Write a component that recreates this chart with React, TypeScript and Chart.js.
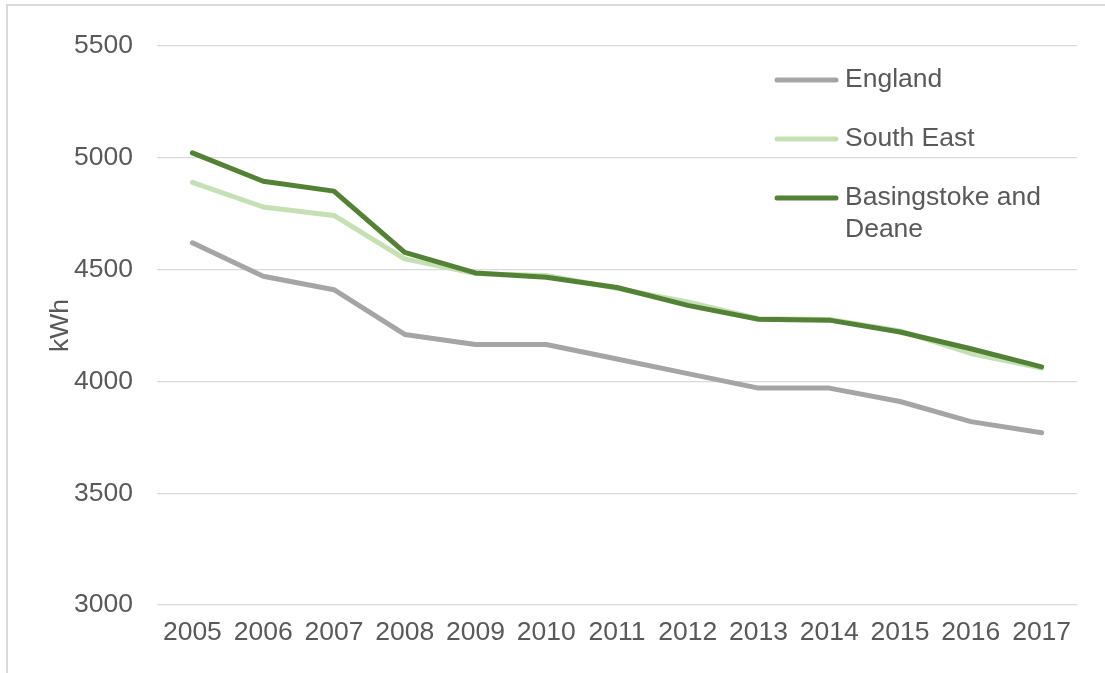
import React, { useEffect, useRef } from "react";
import { Chart, registerables } from "chart.js";

Chart.register(...registerables);

const years = ["2005", "2006", "2007", "2008", "2009", "2010", "2011", "2012", "2013", "2014", "2015", "2016", "2017"];
const seriesNames = ["England", "South East", "Basingstoke and Deane"];
const england = [4620, 4470, 4410, 4210, 4165, 4165, 4100, 4035, 3970, 3970, 3910, 3820, 3770];
const southEast = [4890, 4780, 4742, 4548, 4482, 4474, 4416, 4355, 4280, 4277, 4226, 4125, 4060];
const basingstoke = [5022, 4895, 4851, 4577, 4485, 4466, 4420, 4340, 4278, 4274, 4221, 4146, 4065];
const yTicks = [3000, 3500, 4000, 4500, 5000, 5500];
const colors = ["#A5A5A5", "#C5E0B4", "#538135"];

const FONT = "'Liberation Sans', Arial, sans-serif";
const TEXT = "#595959";

const legendPlugin = {
  id: "customLegend",
  afterDraw(chart: any) {
    const ctx = chart.ctx;
    const rows = [80, 139, 198];
    ctx.save();
    ctx.font = `26.5px ${FONT}`;
    ctx.textBaseline = "middle";
    ctx.textAlign = "left";
    chart.data.datasets.forEach((ds: any, i: number) => {
      const y = rows[i];
      ctx.strokeStyle = ds.borderColor;
      ctx.lineWidth = 5;
      ctx.lineCap = "round";
      ctx.beginPath();
      ctx.moveTo(777, y);
      ctx.lineTo(836, y);
      ctx.stroke();
      ctx.fillStyle = TEXT;
      const words = String(ds.label).split(" ");
      const lines: string[] = [];
      let cur = "";
      words.forEach((w) => {
        const test = cur ? cur + " " + w : w;
        if (ctx.measureText(test).width > 235 && cur) {
          lines.push(cur);
          cur = w;
        } else cur = test;
      });
      if (cur) lines.push(cur);
      lines.forEach((ln, k) => ctx.fillText(ln, 845, y + k * 32));
    });
    ctx.restore();
  },
};

export default function App() {
  const ref = useRef<HTMLCanvasElement>(null);
  useEffect(() => {
    if (!ref.current) return;
    const chart = new Chart(ref.current, {
      type: "line",
      data: {
        labels: years,
        datasets: [
          { label: seriesNames[0], data: england, borderColor: colors[0], backgroundColor: colors[0], borderWidth: 5, order: 3 },
          { label: seriesNames[1], data: southEast, borderColor: colors[1], backgroundColor: colors[1], borderWidth: 5, order: 2 },
          { label: seriesNames[2], data: basingstoke, borderColor: colors[2], backgroundColor: colors[2], borderWidth: 5, order: 1 },
        ].map((d) => ({ ...d, pointRadius: 0, tension: 0, borderCapStyle: "round" as const, borderJoinStyle: "round" as const, fill: false })),
      },
      options: {
        responsive: false,
        animation: false,
        layout: { padding: { top: 46, right: 28, left: 0, bottom: 0 } },
        plugins: { legend: { display: false }, tooltip: { enabled: false }, title: { display: false } },
        scales: {
          x: {
            offset: true,
            grid: { display: false, drawTicks: false },
            border: { display: false },
            ticks: { color: TEXT, font: { family: FONT, size: 26.5 }, padding: 12, maxRotation: 0, autoSkip: false },
            afterFit: (s: any) => { s.height = 68; },
          },
          y: {
            min: 3000,
            max: 5500,
            afterBuildTicks: (s: any) => { s.ticks = yTicks.map((v) => ({ value: v })); },
            grid: { color: "#D9D9D9", lineWidth: 1.3, drawTicks: false },
            border: { display: false },
            ticks: { color: TEXT, font: { family: FONT, size: 26.5 }, padding: 24, callback: (v: any) => String(v) },
            title: { display: true, text: "kWh", color: TEXT, font: { family: FONT, size: 26.5 }, padding: { top: 45, bottom: 0 } },
            afterFit: (s: any) => { s.width = 157; },
          },
        },
      },
      plugins: [legendPlugin],
    });
    return () => chart.destroy();
  }, []);
  return (
    <div style={{ position: "fixed", left: 0, top: 0, width: 1105, height: 673, background: "#fff", overflow: "hidden" }}>
      <div style={{ position: "absolute", left: 6, top: 4, width: 1200, height: 800, borderLeft: "2px solid #D9D9D9", borderTop: "2px solid #D9D9D9" }} />
      <canvas ref={ref} width={1105} height={673} style={{ position: "absolute", left: 0, top: 0, width: 1105, height: 673 }} />
    </div>
  );
}
